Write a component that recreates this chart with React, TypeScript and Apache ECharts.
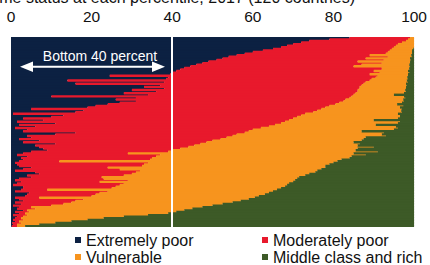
import React, { useEffect, useRef } from "react";
import * as echarts from "echarts";

// Percentile ticks on the top axis
const percentileTicks = [0, 20, 40, 60, 80, 100];

// Cumulative shares (percentile where each status ends) for the 120 countries, top row first
const extremeCum = [
  84, 79, 74, 72, 70, 68.5, 67, 65, 62.5, 60,
  58, 56, 54, 52.5, 51, 49, 47.5, 46, 44.5, 43,
  42, 41, 40, 39.5, 24.5, 39, 38.5, 14, 38, 16,
  37, 33, 38, 30, 36, 28, 34, 10, 31, 26,
  31, 27, 24, 21, 19, 5, 18, 16, 0.5, 13,
  10, 3, 8, 1.5, 11, 2, 6, 1, 4, 3,
  16, 11, 4, 5, 2, 7, 3, 11, 6, 7,
  8, 9, 5, 3, 1.5, 4, 2.5, 3, 2, 1,
  1.5, 2, 5, 3, 1, 6, 7, 4, 5, 2,
  1, 2.5, 1.5, 0.5, 3, 3, 2.5, 1, 4.5, 4,
  3.5, 1, 2, 3, 1, 2.5, 0.5, 2, 1.5, 3,
  1, 2, 0.5, 1.5, 1, 0.5, 1, 0.3, 0.5, 0.2,
];

const poorCum = [
  99, 98.5, 98, 97, 96, 95.5, 95, 94.5, 94, 93.5,
  93, 89, 93.5, 88, 92.5, 86, 92, 87, 85, 92,
  92, 90, 91.5, 89, 91, 90.5, 89.5, 89, 88, 87.5,
  87, 86.5, 86.5, 86, 86, 85.5, 85, 84.5, 84, 83,
  82.5, 81.5, 80.5, 79, 78, 77, 76, 75, 73, 72,
  71, 70, 69, 68, 67, 65.5, 64, 62, 60, 59,
  58, 56, 55, 53.5, 52, 50, 48.5, 47, 45.5, 44,
  42, 40, 39, 29, 37, 36, 35, 34.5, 12, 34,
  33, 32.5, 24, 27, 32, 31, 30, 28, 22.5, 23,
  29, 22, 28, 27, 26, 25, 9, 24, 22, 21,
  20, 7, 18, 16, 15, 13, 10, 5, 6, 4,
  4.5, 3.5, 4, 3, 2.5, 3, 2, 2.5, 1.5, 1.5,
];

const vulnerableCum = [
  100, 100, 100, 100, 100, 100, 100, 99.8, 99.5, 99.5,
  99.5, 99.3, 99.5, 99, 99.2, 99, 99, 98.8, 99, 98.8,
  98.8, 98.5, 98.8, 98.5, 98.5, 98.3, 98.5, 98.2, 98.5, 98,
  98.2, 98, 98, 97.8, 98, 97.5, 95, 97.5, 97.8, 97.3,
  97.5, 97, 95.8, 97.3, 96.5, 97, 96.8, 97, 96, 96.5,
  96.5, 96, 90, 96.5, 96, 90.5, 95.5, 96, 95, 87,
  92.5, 92, 93, 88, 87.5, 87, 85, 86.5, 86, 90,
  86, 85.5, 91, 85, 88, 84.5, 84, 82, 81, 80,
  79, 78, 78, 77, 76, 75.5, 74, 73, 71.5, 71,
  70.5, 70, 69, 68.5, 68, 67, 66, 65, 64, 63,
  61.5, 60.5, 59, 57, 55, 52.5, 50, 47.5, 45, 43,
  41, 39, 34, 28, 23, 19, 15, 11, 7, 3.5,
];

const countries = extremeCum.map((_, i) => `Country ${i + 1}`);

const seriesNames = ["Extremely poor", "Moderately poor", "Vulnerable", "Middle class and rich"];
const seriesColors = ["#0c2142", "#e8192c", "#f7941e", "#3d5a27"];

const FONT = "'Liberation Sans', Arial, Helvetica, sans-serif";

export default function App() {
  const ref = useRef<HTMLDivElement>(null);

  useEffect(() => {
    if (!ref.current) return;
    const chart = echarts.init(ref.current, null, { renderer: "svg" });

    const r2 = (v: number) => Math.round(v * 100) / 100;
    const extreme = extremeCum.slice();
    const moderate = poorCum.map((v, i) => r2(v - extremeCum[i]));
    const vulnerable = vulnerableCum.map((v, i) => r2(v - poorCum[i]));
    const middle = vulnerableCum.map((v) => r2(100 - v));
    const values = [extreme, moderate, vulnerable, middle];

    const legendCommon = {
      orient: "vertical",
      top: 232,
      height: 40,
      itemWidth: 6,
      itemHeight: 6,
      itemGap: 1,
      icon: "rect",
      selectedMode: false,
      padding: 0,
      textStyle: { fontSize: 16, color: "#111", fontFamily: FONT, lineHeight: 16 },
    };

    chart.setOption({
      animation: false,
      grid: { left: 11, right: 15, top: 37, bottom: 38 },
      xAxis: {
        type: "value",
        position: "top",
        min: percentileTicks[0],
        max: percentileTicks[percentileTicks.length - 1],
        interval: 20,
        axisLine: { show: false },
        axisTick: { show: false },
        splitLine: { show: false },
        axisLabel: { fontSize: 15.5, color: "#111", fontFamily: FONT, margin: 13 },
      },
      yAxis: {
        type: "category",
        inverse: true,
        data: countries,
        show: false,
      },
      legend: [
        { ...legendCommon, left: 75, data: [seriesNames[0], seriesNames[2]] },
        { ...legendCommon, left: 262, data: [seriesNames[1], seriesNames[3]] },
      ],
      series: values.map((d, k) => ({
        name: seriesNames[k],
        type: "bar",
        stack: "total",
        data: d,
        barWidth: 2.4,
        silent: true,
        itemStyle: { color: seriesColors[k] },
        emphasis: { disabled: true },
        markLine:
          k === 3
            ? {
                silent: true,
                symbol: ["none", "none"],
                label: { show: false },
                lineStyle: { color: "#ffffff", width: 2, type: "solid" },
                data: [{ xAxis: 40 }],
              }
            : undefined,
      })),
      graphic: [
        {
          type: "text",
          x: -31,
          y: -2.5,
          style: {
            text: "Income status at each percentile, 2017 (120 countries)",
            fontSize: 16,
            fill: "#111",
            fontFamily: FONT,
            verticalAlign: "middle",
            align: "left",
          },
        },
        {
          type: "text",
          x: 100,
          y: 56,
          z: 20,
          style: {
            text: "Bottom 40 percent",
            fontSize: 14,
            fill: "#ffffff",
            fontFamily: FONT,
            align: "center",
            verticalAlign: "middle",
          },
        },
        {
          type: "line",
          z: 20,
          shape: { x1: 30, y1: 66.8, x2: 155, y2: 66.8 },
          style: { stroke: "#ffffff", lineWidth: 2 },
        },
        {
          type: "polygon",
          z: 20,
          shape: { points: [[20, 66.8], [33, 61.5], [33, 72]] },
          style: { fill: "#ffffff" },
        },
        {
          type: "polygon",
          z: 20,
          shape: { points: [[165, 66.8], [152, 61.5], [152, 72]] },
          style: { fill: "#ffffff" },
        },
      ],
    });

    return () => chart.dispose();
  }, []);

  return (
    <div
      ref={ref}
      style={{ position: "absolute", left: 0, top: 0, width: 430, height: 265, background: "#fff" }}
    />
  );
}
